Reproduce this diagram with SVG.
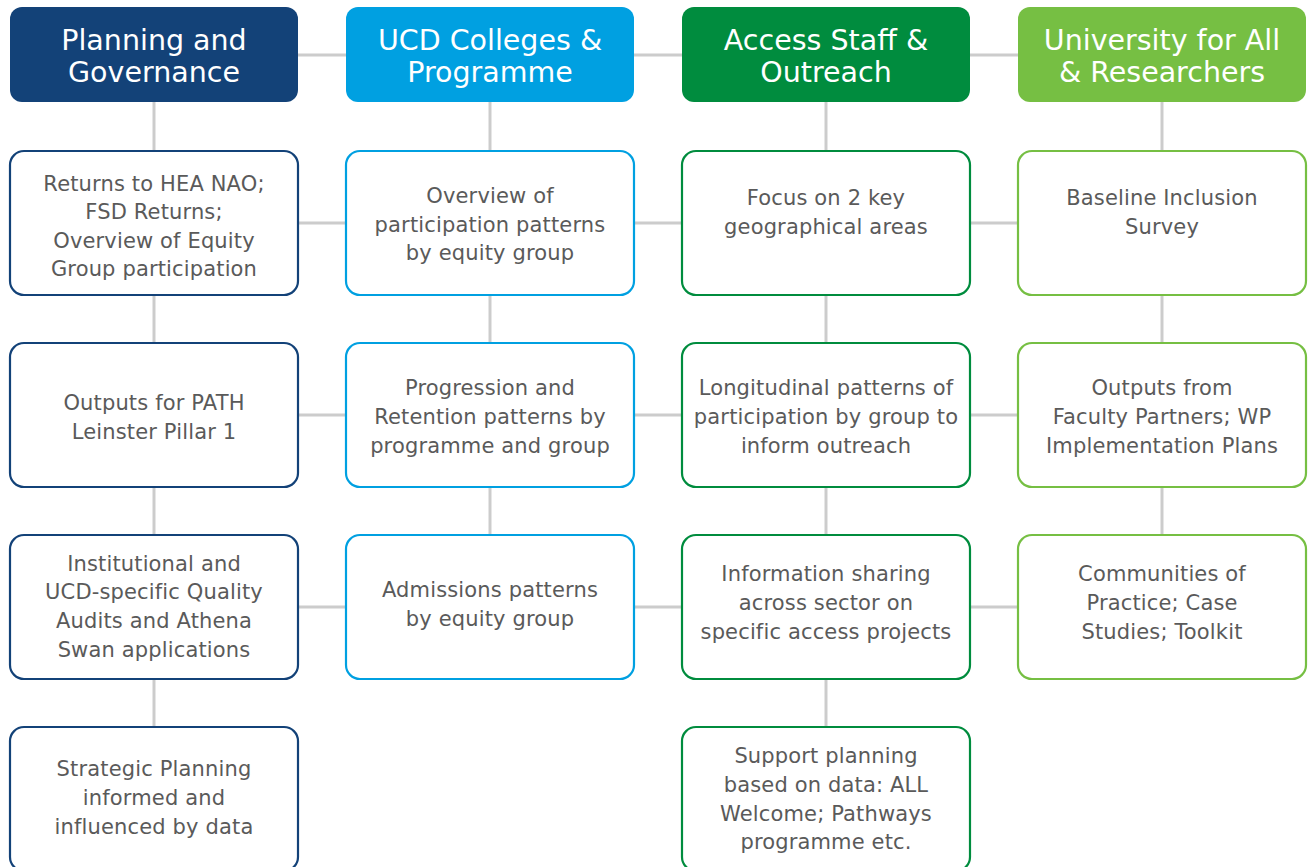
<svg xmlns="http://www.w3.org/2000/svg" width="1311" height="867" viewBox="0 0 1311 867">
<style>
.hd{stroke:none}
.bx{fill:#fff;stroke-width:2.2}
.c1{stroke:#134278}.c2{stroke:#00a0e1}.c3{stroke:#008c3e}.c4{stroke:#76bf43}
.f1{fill:#134278}.f2{fill:#00a0e1}.f3{fill:#008c3e}.f4{fill:#76bf43}
.ht{font-family:"DejaVu Sans",sans-serif;font-size:28.5px;fill:#fff;text-anchor:middle}
.bt{font-family:"DejaVu Sans",sans-serif;font-size:21px;letter-spacing:0.15px;fill:#5a5a5a;text-anchor:middle}
.cn line{stroke:#cccccc;stroke-width:3}
</style>
<rect width="1311" height="867" fill="#fff"/>
<g class="cn" id="connectors">
<line x1="298" y1="55" x2="346" y2="55"/><line x1="634" y1="55" x2="682" y2="55"/><line x1="970" y1="55" x2="1018" y2="55"/>
<line x1="298" y1="223" x2="346" y2="223"/><line x1="634" y1="223" x2="682" y2="223"/><line x1="970" y1="223" x2="1018" y2="223"/>
<line x1="298" y1="415" x2="346" y2="415"/><line x1="634" y1="415" x2="682" y2="415"/><line x1="970" y1="415" x2="1018" y2="415"/>
<line x1="298" y1="607" x2="346" y2="607"/><line x1="634" y1="607" x2="682" y2="607"/><line x1="970" y1="607" x2="1018" y2="607"/>
<line x1="154" y1="102" x2="154" y2="151"/><line x1="154" y1="295" x2="154" y2="343"/><line x1="154" y1="487" x2="154" y2="535"/><line x1="154" y1="679" x2="154" y2="727"/>
<line x1="490" y1="102" x2="490" y2="151"/><line x1="490" y1="295" x2="490" y2="343"/><line x1="490" y1="487" x2="490" y2="535"/>
<line x1="826" y1="102" x2="826" y2="151"/><line x1="826" y1="295" x2="826" y2="343"/><line x1="826" y1="487" x2="826" y2="535"/><line x1="826" y1="679" x2="826" y2="727"/>
<line x1="1162" y1="102" x2="1162" y2="151"/><line x1="1162" y1="295" x2="1162" y2="343"/><line x1="1162" y1="487" x2="1162" y2="535"/>
</g>
<g id="h1"><rect class="hd f1" x="10" y="7" width="288" height="95" rx="12"/><text class="ht" x="154" y="50">Planning and</text><text class="ht" x="154" y="82">Governance</text></g>
<g id="h2"><rect class="hd f2" x="346" y="7" width="288" height="95" rx="12"/><text class="ht" x="490" y="50">UCD Colleges &amp;</text><text class="ht" x="490" y="82">Programme</text></g>
<g id="h3"><rect class="hd f3" x="682" y="7" width="288" height="95" rx="12"/><text class="ht" x="826" y="50">Access Staff &amp;</text><text class="ht" x="826" y="82">Outreach</text></g>
<g id="h4"><rect class="hd f4" x="1018" y="7" width="288" height="95" rx="12"/><text class="ht" x="1162" y="50">University for All</text><text class="ht" x="1162" y="82">&amp; Researchers</text></g>

<g id="b11"><rect class="bx c1" x="10" y="151" width="288" height="144" rx="14"/><text class="bt" x="154" y="191">Returns to HEA NAO;</text><text class="bt" x="154" y="219">FSD Returns;</text><text class="bt" x="154" y="248">Overview of Equity</text><text class="bt" x="154" y="276">Group participation</text></g>
<g id="b12"><rect class="bx c1" x="10" y="343" width="288" height="144" rx="14"/><text class="bt" x="154" y="410">Outputs for PATH</text><text class="bt" x="154" y="439">Leinster Pillar 1</text></g>
<g id="b13"><rect class="bx c1" x="10" y="535" width="288" height="144" rx="14"/><text class="bt" x="154" y="571">Institutional and</text><text class="bt" x="154" y="599">UCD-specific Quality</text><text class="bt" x="154" y="628">Audits and Athena</text><text class="bt" x="154" y="657">Swan applications</text></g>
<g id="b14"><rect class="bx c1" x="10" y="727" width="288" height="144" rx="14"/><text class="bt" x="154" y="776">Strategic Planning</text><text class="bt" x="154" y="805">informed and</text><text class="bt" x="154" y="834">influenced by data</text></g>

<g id="b21"><rect class="bx c2" x="346" y="151" width="288" height="144" rx="14"/><text class="bt" x="490" y="203">Overview of</text><text class="bt" x="490" y="232">participation patterns</text><text class="bt" x="490" y="260">by equity group</text></g>
<g id="b22"><rect class="bx c2" x="346" y="343" width="288" height="144" rx="14"/><text class="bt" x="490" y="395">Progression and</text><text class="bt" x="490" y="424">Retention patterns by</text><text class="bt" x="490" y="453">programme and group</text></g>
<g id="b23"><rect class="bx c2" x="346" y="535" width="288" height="144" rx="14"/><text class="bt" x="490" y="597">Admissions patterns</text><text class="bt" x="490" y="626">by equity group</text></g>

<g id="b31"><rect class="bx c3" x="682" y="151" width="288" height="144" rx="14"/><text class="bt" x="826" y="205">Focus on 2 key</text><text class="bt" x="826" y="234">geographical areas</text></g>
<g id="b32"><rect class="bx c3" x="682" y="343" width="288" height="144" rx="14"/><text class="bt" x="826" y="395">Longitudinal patterns of</text><text class="bt" x="826" y="424">participation by group to</text><text class="bt" x="826" y="453">inform outreach</text></g>
<g id="b33"><rect class="bx c3" x="682" y="535" width="288" height="144" rx="14"/><text class="bt" x="826" y="581">Information sharing</text><text class="bt" x="826" y="610">across sector on</text><text class="bt" x="826" y="639">specific access projects</text></g>
<g id="b34"><rect class="bx c3" x="682" y="727" width="288" height="144" rx="14"/><text class="bt" x="826" y="763">Support planning</text><text class="bt" x="826" y="792">based on data: ALL</text><text class="bt" x="826" y="821">Welcome; Pathways</text><text class="bt" x="826" y="849">programme etc.</text></g>

<g id="b41"><rect class="bx c4" x="1018" y="151" width="288" height="144" rx="14"/><text class="bt" x="1162" y="205">Baseline Inclusion</text><text class="bt" x="1162" y="234">Survey</text></g>
<g id="b42"><rect class="bx c4" x="1018" y="343" width="288" height="144" rx="14"/><text class="bt" x="1162" y="395">Outputs from</text><text class="bt" x="1162" y="424">Faculty Partners; WP</text><text class="bt" x="1162" y="453">Implementation Plans</text></g>
<g id="b43"><rect class="bx c4" x="1018" y="535" width="288" height="144" rx="14"/><text class="bt" x="1162" y="581">Communities of</text><text class="bt" x="1162" y="610">Practice; Case</text><text class="bt" x="1162" y="639">Studies; Toolkit</text></g>
</svg>
